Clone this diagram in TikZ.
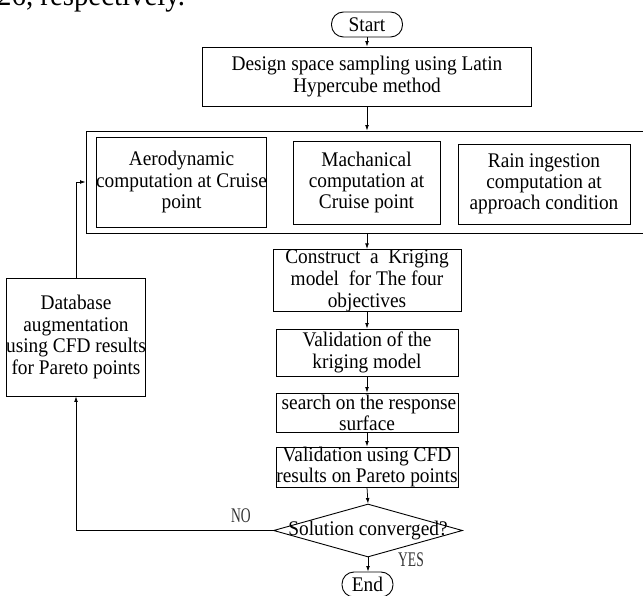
\documentclass[tikz,border=0pt]{standalone}
\usepackage{fontspec}
\setmainfont{Liberation Serif}[FakeStretch=0.93]
\usetikzlibrary{shapes.geometric,arrows.meta}
\begin{document}
\begin{tikzpicture}[x=1pt,y=-1pt,
  every node/.style={font=\fontsize{20.8}{21.2}\selectfont, text=black},
  box/.style={draw, line width=0.9pt, rectangle, inner sep=0pt, align=center},
  term/.style={draw, line width=0.9pt, rectangle, rounded corners=12pt, inner sep=0pt},
  arr/.style={-{Latex[length=5.5pt,width=3.8pt]}, line width=0.75pt},
  lbl/.style={text=black!80}
]
\useasboundingbox (0,0) rectangle (643,596);

% cropped fragment of the preceding text line
\node[anchor=base west, inner sep=0pt, font=\fontsize{31}{33}\selectfont] (frag) at (-3,6) {26, respectively.};

\node[term, minimum width=71pt, minimum height=25pt] (start) at (367,24.5) {Start};
\node[box, minimum width=329pt, minimum height=59pt] (design) at (367,76.5) {Design space sampling using Latin\\Hypercube method};

\node[box, minimum width=564pt, minimum height=102pt] (outer) at (368,182) {};
\node[box, minimum width=169pt, minimum height=90pt] (aero) at (181.5,182) {Aerodynamic\\computation at Cruise\\point};
\node[box, minimum width=147pt, minimum height=83pt] (mach) at (366.5,182.5) {Machanical\\computation at\\Cruise point};
\node[box, minimum width=172pt, minimum height=80pt] (rain) at (544,184) {Rain ingestion\\computation at\\approach condition};

\node[box, minimum width=188pt, minimum height=53pt, font=\fontsize{20.8}{22}\selectfont] (krig) at (367,280.5) {Construct~ a~ Kriging\\model~ for The four\\objectives};
\node[box, minimum width=182pt, minimum height=47pt] (valid) at (367,352.5) {Validation of the\\kriging model};
\node[box, minimum width=182pt, minimum height=39pt] (search) at (367,412.5) {\hspace*{4pt}search on the response\\surface};
\node[box, minimum width=182pt, minimum height=40pt] (valcfd) at (367,467) {Validation using CFD\\results on Pareto points};

\node[draw, diamond, line width=0.9pt, inner sep=0pt, minimum width=189pt, minimum height=53pt] (dia) at (368,530.5) {};
\node[inner sep=0pt] (diatext) at (dia.center) {Solution converged?};

\node[term, minimum width=51pt, minimum height=25pt] (end) at (367.5,584.5) {End};

\node[box, minimum width=138pt, minimum height=118pt, font=\fontsize{20.8}{21.7}\selectfont] (db) at (76,337) {Database\\augmentation\\using CFD results\\for Pareto points};

\node[lbl] (no) at (241,515.5) {\scalebox{0.7}[1]{NO}};
\node[lbl] (yes) at (411,560) {\scalebox{0.7}[1]{YES}};

% connectors
\draw[arr] (start.south) -- (design.north);
\draw[arr] (design.south) -- (design.south |- outer.north);
\draw[arr] (krig.north |- outer.south) -- (krig.north);
\draw[arr] (krig.south) -- (valid.north);
\draw[arr] (valid.south) -- (search.north);
\draw[arr] (search.south) -- (valcfd.north);
\draw[arr] (valcfd.south) -- (dia.north);
\draw[arr] (dia.south) -- (dia.south |- end.north);
\draw[arr] (dia.west) -| (db.south);
\draw[arr] (db.north) |- (outer.west);
\end{tikzpicture}
\end{document}
